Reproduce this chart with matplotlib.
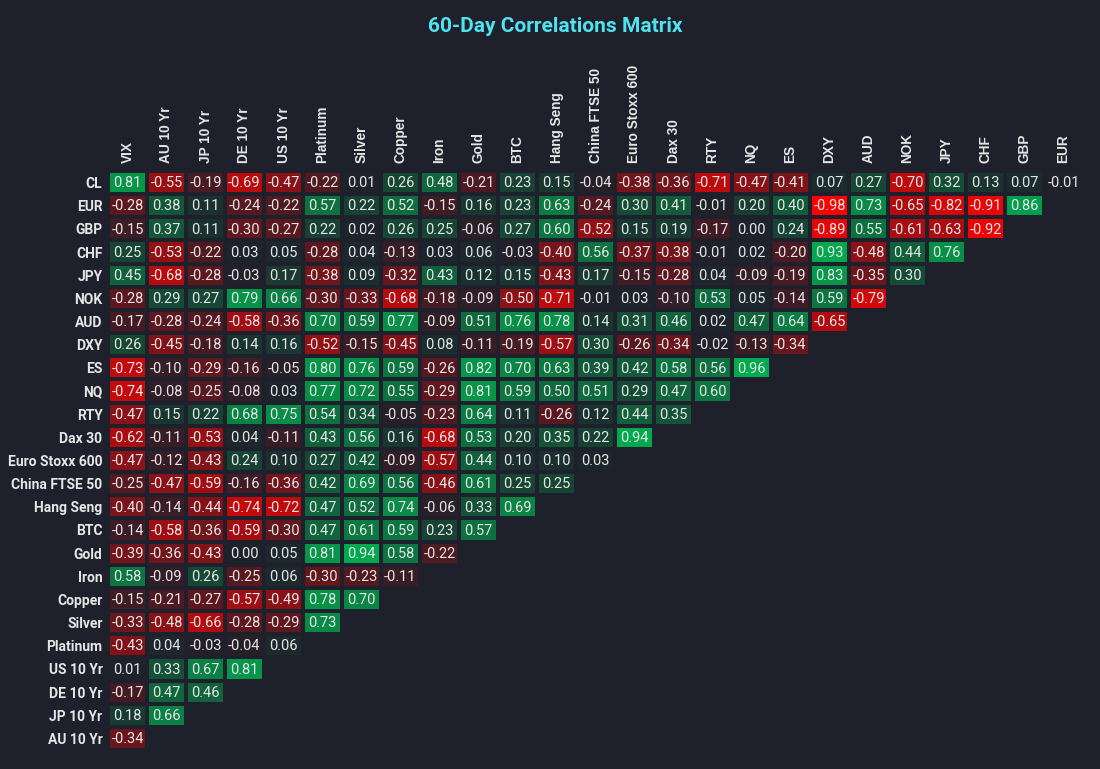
import numpy as np
import matplotlib
matplotlib.use("Agg")
from matplotlib import pyplot as plt
from matplotlib.colors import LinearSegmentedColormap

cols = ["VIX", "AU 10 Yr", "JP 10 Yr", "DE 10 Yr", "US 10 Yr", "Platinum", "Silver",
        "Copper", "Iron", "Gold", "BTC", "Hang Seng", "China FTSE 50", "Euro Stoxx 600",
        "Dax 30", "RTY", "NQ", "ES", "DXY", "AUD", "NOK", "JPY", "CHF", "GBP", "EUR"]

rows = ["CL", "EUR", "GBP", "CHF", "JPY", "NOK", "AUD", "DXY", "ES", "NQ", "RTY",
        "Dax 30", "Euro Stoxx 600", "China FTSE 50", "Hang Seng", "BTC", "Gold", "Iron",
        "Copper", "Silver", "Platinum", "US 10 Yr", "DE 10 Yr", "JP 10 Yr", "AU 10 Yr"]

# one list per row, left to right (lower-left triangle)
vals = [
  [0.81, -0.55, -0.19, -0.69, -0.47, -0.22, 0.01, 0.26, 0.48, -0.21, 0.23, 0.15, -0.04, -0.38, -0.36, -0.71, -0.47, -0.41, 0.07, 0.27, -0.70, 0.32, 0.13, 0.07, -0.01],
  [-0.28, 0.38, 0.11, -0.24, -0.22, 0.57, 0.22, 0.52, -0.15, 0.16, 0.23, 0.63, -0.24, 0.30, 0.41, -0.01, 0.20, 0.40, -0.98, 0.73, -0.65, -0.82, -0.91, 0.86],
  [-0.15, 0.37, 0.11, -0.30, -0.27, 0.22, 0.02, 0.26, 0.25, -0.06, 0.27, 0.60, -0.52, 0.15, 0.19, -0.17, 0.00, 0.24, -0.89, 0.55, -0.61, -0.63, -0.92],
  [0.25, -0.53, -0.22, 0.03, 0.05, -0.28, 0.04, -0.13, 0.03, 0.06, -0.03, -0.40, 0.56, -0.37, -0.38, -0.01, 0.02, -0.20, 0.93, -0.48, 0.44, 0.76],
  [0.45, -0.68, -0.28, -0.03, 0.17, -0.38, 0.09, -0.32, 0.43, 0.12, 0.15, -0.43, 0.17, -0.15, -0.28, 0.04, -0.09, -0.19, 0.83, -0.35, 0.30],
  [-0.28, 0.29, 0.27, 0.79, 0.66, -0.30, -0.33, -0.68, -0.18, -0.09, -0.50, -0.71, -0.01, 0.03, -0.10, 0.53, 0.05, -0.14, 0.59, -0.79],
  [-0.17, -0.28, -0.24, -0.58, -0.36, 0.70, 0.59, 0.77, -0.09, 0.51, 0.76, 0.78, 0.14, 0.31, 0.46, 0.02, 0.47, 0.64, -0.65],
  [0.26, -0.45, -0.18, 0.14, 0.16, -0.52, -0.15, -0.45, 0.08, -0.11, -0.19, -0.57, 0.30, -0.26, -0.34, -0.02, -0.13, -0.34],
  [-0.73, -0.10, -0.29, -0.16, -0.05, 0.80, 0.76, 0.59, -0.26, 0.82, 0.70, 0.63, 0.39, 0.42, 0.58, 0.56, 0.96],
  [-0.74, -0.08, -0.25, -0.08, 0.03, 0.77, 0.72, 0.55, -0.29, 0.81, 0.59, 0.50, 0.51, 0.29, 0.47, 0.60],
  [-0.47, 0.15, 0.22, 0.68, 0.75, 0.54, 0.34, -0.05, -0.23, 0.64, 0.11, -0.26, 0.12, 0.44, 0.35],
  [-0.62, -0.11, -0.53, 0.04, -0.11, 0.43, 0.56, 0.16, -0.68, 0.53, 0.20, 0.35, 0.22, 0.94],
  [-0.47, -0.12, -0.43, 0.24, 0.10, 0.27, 0.42, -0.09, -0.57, 0.44, 0.10, 0.10, 0.03],
  [-0.25, -0.47, -0.59, -0.16, -0.36, 0.42, 0.69, 0.56, -0.46, 0.61, 0.25, 0.25],
  [-0.40, -0.14, -0.44, -0.74, -0.72, 0.47, 0.52, 0.74, -0.06, 0.33, 0.69],
  [-0.14, -0.58, -0.36, -0.59, -0.30, 0.47, 0.61, 0.59, 0.23, 0.57],
  [-0.39, -0.36, -0.43, 0.00, 0.05, 0.81, 0.94, 0.58, -0.22],
  [0.58, -0.09, 0.26, -0.25, 0.06, -0.30, -0.23, -0.11],
  [-0.15, -0.21, -0.27, -0.57, -0.49, 0.78, 0.70],
  [-0.33, -0.48, -0.66, -0.28, -0.29, 0.73],
  [-0.43, 0.04, -0.03, -0.04, 0.06],
  [0.01, 0.33, 0.67, 0.81],
  [-0.17, 0.47, 0.46],
  [0.18, 0.66],
  [-0.34],
]

bg = "#1e212b"
txt = "#e6e6e6"

mat = np.full((len(rows), len(cols)), np.nan)
for i, r in enumerate(vals):
  mat[i, :len(r)] = r
m = np.ma.masked_invalid(mat)

cmap = LinearSegmentedColormap.from_list("rg", ["#ff0000", bg, "#00b050"])

fig = plt.figure(figsize=(11, 7.69), dpi=100, facecolor=bg)
ax = fig.add_axes([108/1100, 1 - 750/769, 975/1100, 579/769])
ax.set_facecolor(bg)
ax.pcolormesh(m, cmap=cmap, vmin=-1, vmax=1, edgecolors=bg, linewidth=1.6)
ax.set_xlim(0, len(cols))
ax.set_ylim(len(rows), 0)

ax.xaxis.tick_top()
ax.set_xticks(np.arange(len(cols)) + 0.5)
ax.set_xticklabels(cols, rotation=90, color=txt, fontsize=9.8, fontweight="bold",
                   family=["Liberation Sans", "DejaVu Sans"])
ax.set_yticks(np.arange(len(rows)) + 0.5)
ax.set_yticklabels(rows, color=txt, fontsize=10, fontweight="bold",
                   family=["Roboto", "DejaVu Sans"])
ax.tick_params(axis="x", length=0, pad=6)
ax.tick_params(axis="y", length=0, pad=4)
for s in ax.spines.values():
  s.set_visible(False)

for i, r in enumerate(vals):
  for j, v in enumerate(r):
    ax.text(j + 0.5, i + 0.53, f"{v:.2f}", ha="center", va="center", color=txt,
            fontsize=10.5, family=["Roboto", "DejaVu Sans"])

fig.text(0.505, 1 - 26/769, "60-Day Correlations Matrix", ha="center", va="center",
         color="#4fe3f0", fontsize=15, fontweight="bold", family=["Roboto", "DejaVu Sans"])

fig.savefig("out.png", dpi=100, facecolor=bg)
